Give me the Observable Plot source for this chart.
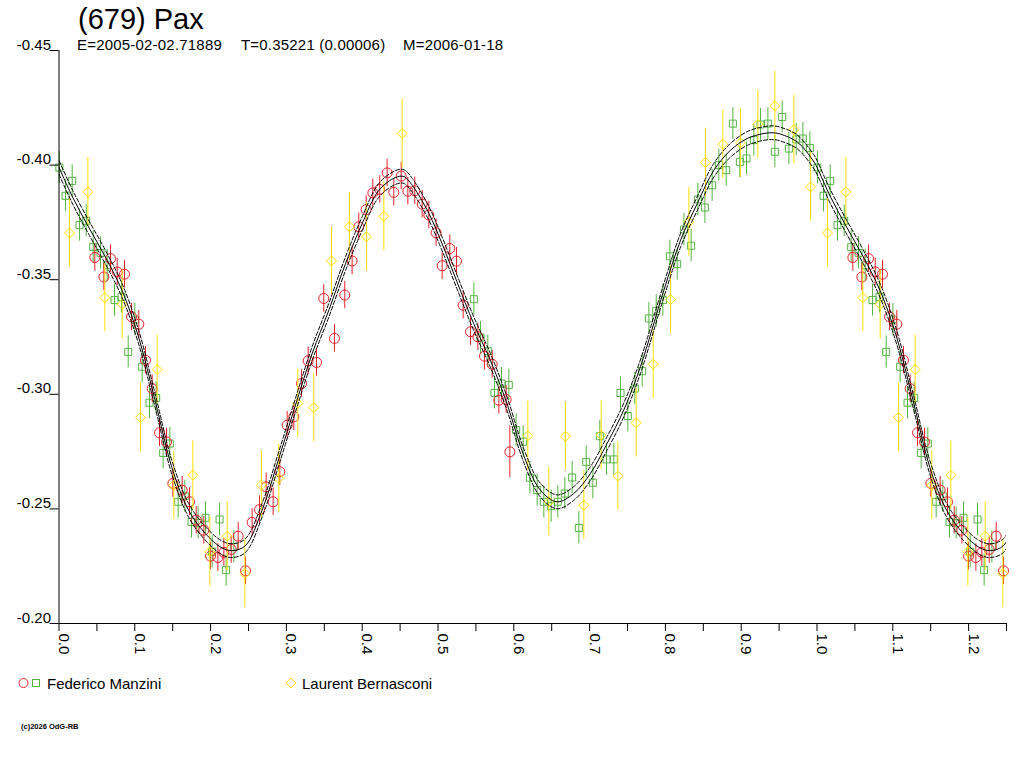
<!DOCTYPE html>
<html><head><meta charset="utf-8">
<script src="https://cdn.jsdelivr.net/npm/d3@7"></script>
<script src="https://cdn.jsdelivr.net/npm/@observablehq/plot@0.6"></script>
<style>
html,body{margin:0;padding:0;background:#fff;}
#wrap{position:relative;width:1024px;height:768px;overflow:hidden;font-family:"Liberation Sans",Arial,sans-serif;}
#wrap svg{position:absolute;left:0;top:0;}
</style></head><body><div id="wrap"></div>
<script>
// ---------- texts ----------
const titleText = "(679) Pax";
const subE = "E=2005-02-02.71889";
const subT = "T=0.35221 (0.00006)";
const subM = "M=2006-01-18";
const legendNames = ["Federico Manzini", "Laurent Bernasconi"];
const copyrightText = "(c)2026 OdG-RB";

// ---------- ticks ----------
const yTicks = [-0.45, -0.40, -0.35, -0.30, -0.25, -0.20];
const xMinorTicks = [0, 0.05, 0.1, 0.15, 0.2, 0.25, 0.3, 0.35, 0.4, 0.45, 0.5, 0.55, 0.6, 0.65, 0.7, 0.75, 0.8, 0.85, 0.9, 0.95, 1.0, 1.05, 1.1, 1.15, 1.2, 1.25];
const xLabelTicks = [0, 0.1, 0.2, 0.3, 0.4, 0.5, 0.6, 0.7, 0.8, 0.9, 1.0, 1.1, 1.2];

// ---------- Federico Manzini, session 1 (green squares) ----------
const greenPhase = [0.0005,0.0086,0.0174,0.0271,0.0359,0.0451,0.0548,0.0636,0.0732,0.0825,0.0913,0.1001,0.1097,0.1194,0.1282,0.1374,0.1462,0.1572,0.1660,0.1748,0.1836,0.1933,0.2021,0.2118,0.2205,0.2307,
 0.5473,0.5561,0.5657,0.5745,0.5838,0.5934,0.6031,0.6124,0.6212,0.6308,0.6396,0.6493,0.6581,0.6673,0.6770,0.6858,0.6955,0.7043,0.7135,0.7223,0.7320,0.7408,0.7504,0.7597,
 0.7694,0.7782,0.7879,0.7967,0.8059,0.8156,0.8244,0.8340,0.8428,0.8521,0.8617,0.8705,0.8802,0.8890,0.8982,0.9070,0.9167,0.9255,0.9352,0.9444,0.9541,0.9629,0.9726,0.9814,0.9906];
const greenMag = [-0.3989,-0.3866,-0.3931,-0.3738,-0.3757,-0.3643,-0.3617,-0.3563,-0.3411,-0.3425,-0.3185,-0.3326,-0.3120,-0.2963,-0.2984,-0.2744,-0.2785,-0.2531,-0.2555,-0.2443,-0.2439,-0.2461,-0.2313,-0.2454,-0.2233,-0.2334,
 -0.3415,-0.3248,-0.3188,-0.3006,-0.3047,-0.3040,-0.2844,-0.2793,-0.2636,-0.2582,-0.2531,-0.2512,-0.2531,-0.2567,-0.2637,-0.2417,-0.2705,-0.2614,-0.2817,-0.2716,-0.2716,-0.3006,-0.2905,-0.3025,
 -0.3101,-0.3331,-0.3364,-0.3411,-0.3602,-0.3568,-0.3719,-0.3648,-0.3850,-0.3815,-0.3912,-0.4000,-0.3978,-0.4181,-0.4014,-0.4029,-0.4109,-0.4177,-0.4181,-0.4058,-0.4210,-0.4072,-0.4112,-0.4116,-0.4075];
const greenErr = 0.007;

// ---------- Federico Manzini, session 2 (red circles) ----------
const redPhase = [0.0473,0.0592,0.0680,0.0768,0.0864,0.0957,0.1053,0.1141,0.1229,0.1326,0.1418,0.1502,0.1625,0.1722,0.1810,0.1911,0.1999,0.2096,0.2175,0.2272,0.2364,0.2461,
 0.2548,0.2645,0.2733,0.2825,0.2913,0.3010,0.3098,0.3199,0.3287,0.3397,0.3493,0.3634,0.3770,0.3867,0.3955,0.4052,0.4140,0.4232,0.4329,0.4417,0.4514,0.4602,0.4694,0.4791,0.4879,0.4975,0.5055,
 0.5156,0.5244,0.5332,0.5429,0.5526,0.5613,0.5715,0.5803,0.5899,0.5948];
const redMag = [-0.3597,-0.3512,-0.3592,-0.3534,-0.3524,-0.3338,-0.3306,-0.3149,-0.3025,-0.2832,-0.2792,-0.2611,-0.2582,-0.2531,-0.2451,-0.2407,-0.2294,-0.2288,-0.2310,-0.2323,-0.2381,-0.2230,
 -0.2441,-0.2497,-0.2596,-0.2531,-0.2662,-0.2865,-0.2902,-0.3047,-0.3146,-0.3139,-0.3418,-0.3244,-0.3433,-0.3582,-0.3731,-0.3806,-0.3879,-0.3894,-0.3966,-0.3881,-0.3952,-0.3886,-0.3888,-0.3830,-0.3782,-0.3705,-0.3561,
 -0.3636,-0.3581,-0.3389,-0.3273,-0.3251,-0.3166,-0.3131,-0.2974,-0.2977,-0.2749];
const redErr = [0.006,0.006,0.006,0.006,0.006,0.006,0.006,0.006,0.006,0.006,0.006,0.006,0.006,0.006,0.006,0.006,0.006,0.006,0.006,0.006,0.006,0.006,
 0.006,0.006,0.006,0.006,0.006,0.006,0.006,0.006,0.006,0.006,0.006,0.006,0.006,0.006,0.006,0.006,0.006,0.006,0.006,0.006,0.006,0.006,0.006,0.006,0.006,0.006,0.006,
 0.006,0.006,0.006,0.006,0.006,0.006,0.006,0.006,0.006,0.0113];

// ---------- Laurent Bernasconi (yellow diamonds) ----------
const yellowPhase = [0.0139,0.0381,0.0605,0.0834,0.1075,0.1295,0.1515,0.1766,0.1990,0.2219,0.2452,
 0.2671,0.2900,0.3150,0.3361,0.3595,0.3832,0.4056,0.4285,0.4527,
 0.6185,0.6462,0.6682,0.6924,0.7153,0.7373,0.7614,
 0.7839,0.8068,0.8310,0.8529,0.8758,0.8991,0.9220,0.9444,0.9695,0.9915];
const yellowMag = [-0.3704,-0.3883,-0.3422,-0.3393,-0.2899,-0.3108,-0.2603,-0.2647,-0.2313,-0.2381,-0.2218,
 -0.2604,-0.2633,-0.2960,-0.2942,-0.3582,-0.3731,-0.3687,-0.3777,-0.4138,
 -0.2819,-0.2531,-0.2817,-0.2516,-0.2822,-0.2643,-0.2876,
 -0.3131,-0.3413,-0.3752,-0.4011,-0.4091,-0.4097,-0.4178,-0.4258,-0.4155,-0.3905];
const yellowErr = 0.015;

// ---------- fitted light curve ----------
const curvePhase = [0.000,0.018,0.039,0.061,0.083,0.105,0.127,0.149,0.171,0.193,0.215,0.229,0.246,0.268,0.290,0.312,0.334,0.356,0.378,0.400,0.422,0.444,0.455,0.466,0.488,0.505,0.525,0.547,0.569,0.591,0.613,0.635,0.657,0.679,0.701,0.723,0.745,0.767,0.798,0.820,0.842,0.864,0.886,0.908,0.930,0.943,0.952,0.974,0.996];
const curveMag = [-0.3990,-0.3860,-0.3730,-0.3600,-0.3454,-0.3250,-0.2970,-0.2680,-0.2494,-0.2393,-0.2330,-0.2318,-0.2340,-0.2495,-0.2720,-0.2953,-0.3178,-0.3367,-0.3570,-0.3745,-0.3890,-0.3946,-0.3950,-0.3912,-0.3789,-0.3660,-0.3491,-0.3309,-0.3149,-0.2960,-0.2734,-0.2582,-0.2531,-0.2567,-0.2654,-0.2785,-0.2931,-0.3120,-0.3454,-0.3672,-0.3832,-0.3978,-0.4065,-0.4116,-0.4138,-0.4141,-0.4135,-0.4101,-0.4014];
const envelopeOffset = 0.003;

// ---------- colours ----------
const cGreen = "#55b443", cRed = "#e8202a", cYellow = "#ffe200";

// build rows; phases below 0.25 repeat after 1.0
function rows(ph, mg, err) {
  const out = [];
  ph.forEach((p, i) => {
    const e = Array.isArray(err) ? err[i] : err;
    out.push({phase: p, mag: mg[i], err: e});
    if (p < 0.25) out.push({phase: p + 1, mag: mg[i], err: e});
  });
  return out;
}
const greenRows = rows(greenPhase, greenMag, greenErr);
const redRows = rows(redPhase, redMag, redErr);
const yellowRows = rows(yellowPhase, yellowMag, yellowErr);
const curveRows = [];
curvePhase.forEach((p, i) => curveRows.push({phase: p, mag: curveMag[i]}));
curvePhase.forEach((p, i) => { if (p <= 0.27) curveRows.push({phase: p + 1, mag: curveMag[i]}); });
curveRows.sort((a, b) => a.phase - b.phase);

const font = "Liberation Sans, Arial, sans-serif";

function series(data, color, symbol, r) {
  return [
    Plot.ruleX(data, {x: "phase", y1: d => d.mag - d.err, y2: d => d.mag + d.err, stroke: color, strokeWidth: 1}),
    Plot.dot(data, {x: "phase", y: "mag", symbol, r, stroke: color, fill: "none", strokeWidth: 1})
  ];
}

const chart = Plot.plot({
  width: 1024, height: 768,
  marginLeft: 58.5, marginRight: 18, marginTop: 50, marginBottom: 145,
  x: {domain: [0, 1.25]},
  y: {domain: [-0.45, -0.20], reverse: true},
  style: {fontFamily: font, fontSize: "15px", color: "#000", background: "#fff", overflow: "visible"},
  marks: [
    ...series(greenRows, cGreen, "square", 3.95),
    ...series(redRows, cRed, "circle", 5),
    ...series(yellowRows, cYellow, "diamond2", 4.5),
    Plot.line(curveRows, {x: "phase", y: d => d.mag - envelopeOffset, curve: "catmull-rom", stroke: "#000", strokeWidth: 1, strokeDasharray: "4,2", clip: true}),
    Plot.line(curveRows, {x: "phase", y: d => d.mag + envelopeOffset, curve: "catmull-rom", stroke: "#000", strokeWidth: 1, strokeDasharray: "4,2", clip: true}),
    Plot.line(curveRows, {x: "phase", y: "mag", curve: "catmull-rom", stroke: "#000", strokeWidth: 1, clip: true}),
    Plot.ruleX([0], {y1: -0.45, y2: -0.20, stroke: "#000"}),
    Plot.ruleY([-0.20], {x1: 0, x2: 1.25, stroke: "#000"}),
    Plot.axisY({ticks: yTicks, tickSize: 9, tickFormat: () => "", label: null}),
    Plot.axisX({ticks: xMinorTicks, tickSize: 8, tickFormat: () => "", label: null}),
    Plot.text(yTicks, {x: 0, y: d => d, text: d => d.toFixed(2), textAnchor: "end", lineAnchor: "bottom", dx: -8, dy: -1, fontSize: 15, fill: "#000"}),
    Plot.text(xLabelTicks, {x: d => d, y: -0.20, text: d => d.toFixed(1), rotate: 90, textAnchor: "start", lineAnchor: "bottom", dy: 10, fontSize: 15, fill: "#000"})
  ]
});
document.getElementById("wrap").appendChild(chart);

// ---------- overlay: title, subtitle, legend, credit ----------
const ov = d3.select("#wrap").append("svg")
  .attr("width", 1024).attr("height", 768)
  .style("pointer-events", "none")
  .style("font-family", font);
ov.append("text").attr("x", 78).attr("y", 29).attr("font-size", 29).attr("fill", "#000").text(titleText);
[[subE, 77], [subT, 241], [subM, 403]].forEach(([t, x]) =>
  ov.append("text").attr("x", x).attr("y", 50).attr("font-size", 15).attr("letter-spacing", "0.2px").attr("fill", "#000").text(t));
// legend
ov.append("circle").attr("cx", 23.5).attr("cy", 683).attr("r", 4.5).attr("fill", "none").attr("stroke", cRed);
ov.append("rect").attr("x", 32.5).attr("y", 679.5).attr("width", 7).attr("height", 7).attr("fill", "none").attr("stroke", cGreen);
ov.append("text").attr("x", 47).attr("y", 689).attr("font-size", 15).attr("fill", "#000").text(legendNames[0]);
ov.append("path").attr("d", "M291,678L296,683L291,688L286,683Z").attr("fill", "none").attr("stroke", cYellow);
ov.append("text").attr("x", 302).attr("y", 689).attr("font-size", 15).attr("fill", "#000").text(legendNames[1]);
ov.append("text").attr("x", 21).attr("y", 729).attr("font-size", 7.5).attr("font-weight", "bold").attr("fill", "#000").text(copyrightText);
</script>
</body></html>
